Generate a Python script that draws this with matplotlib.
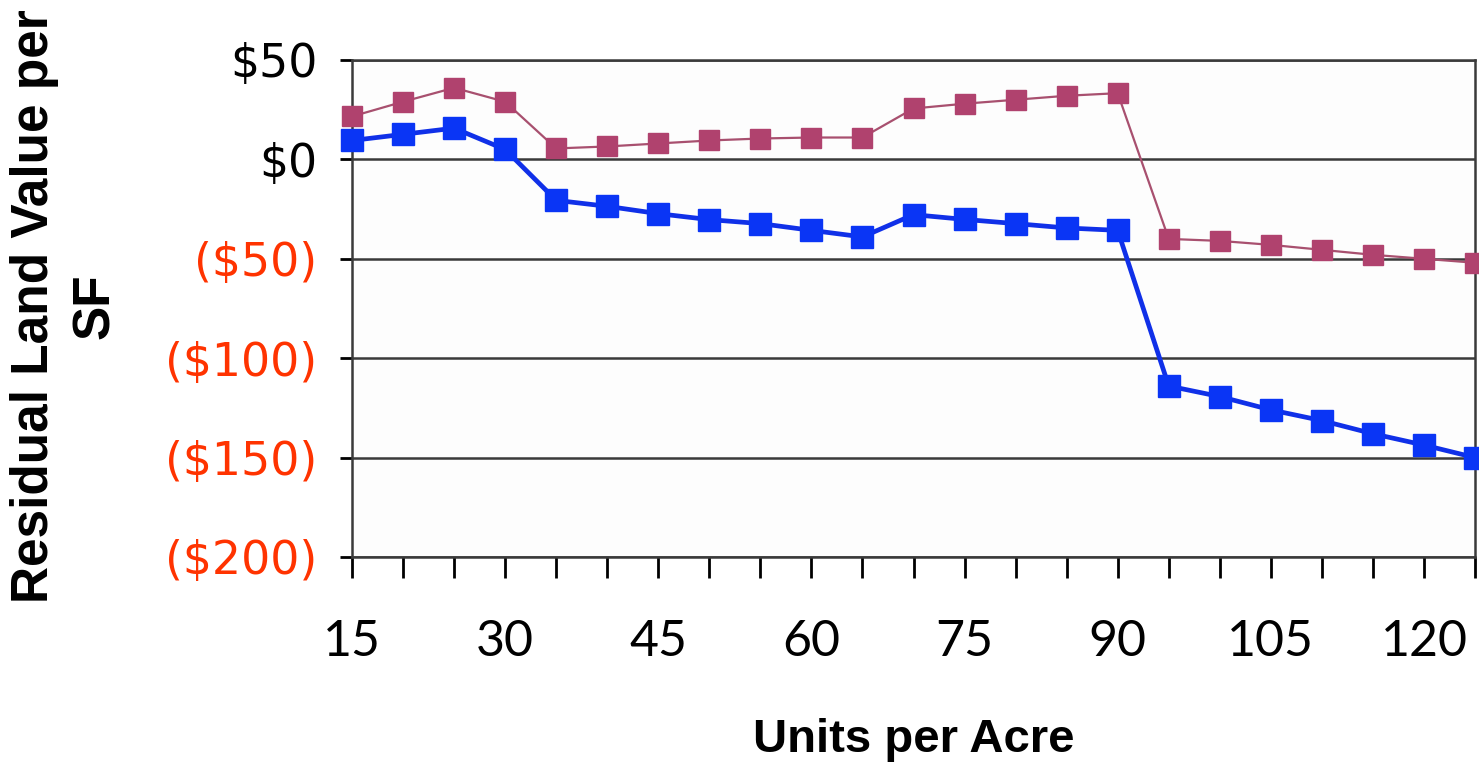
import numpy as np
import matplotlib.pyplot as plt
from matplotlib.ticker import FuncFormatter, MultipleLocator

# ------------------------------
# Data: residual land value per SF vs. density
units_per_acre = [15, 20, 25, 30, 35, 40, 45, 50, 55, 60, 65, 70,
                  75, 80, 85, 90, 95, 100, 105, 110, 115, 120, 125]
series_low = [9.5, 12.6, 15.7, 5, -20.6, -23.6, -27.3, -30.3, -32.3, -35.7, -39, -27.8,
              -30.2, -32.3, -34.5, -35.7, -114, -119.3, -126, -131.4, -138, -143.7, -150]
series_high = [21.6, 29, 36, 29, 5.5, 6.5, 8, 9.5, 10.5, 11, 11, 25.6,
               28, 30, 32, 33.3, -40, -41, -43, -45.5, -48, -50, -52]

yticks = [50, 0, -50, -100, -150, -200]
xticks = [15, 30, 45, 60, 75, 90, 105, 120]

# ------------------------------
# Plot
fig = plt.figure(figsize=(14.79, 7.69), dpi=100)
ax = fig.add_axes([0.238, 0.2757, 0.7593, 0.6463])
ax.set_facecolor('#fdfdfd')

ax.plot(units_per_acre, series_high, color='#a8506f', linewidth=1.6,
        marker='s', markersize=15, markerfacecolor='#b0426e',
        markeredgecolor='#b0426e', clip_on=False, zorder=3)
ax.plot(units_per_acre, series_low, color='#1030e8', linewidth=3.4,
        marker='s', markersize=15.5, markerfacecolor='#0a35f5',
        markeredgecolor='#0a35f5', clip_on=False, zorder=4)

ax.set_xlim(15, 125)
ax.set_ylim(-200, 50)

ax.set_yticks(yticks)
ax.yaxis.set_major_formatter(FuncFormatter(
    lambda v, p: f"${v:.0f}" if v >= 0 else f"(${-v:.0f})"))

ax.set_xticks(xticks)
ax.xaxis.set_minor_locator(MultipleLocator(5))
ax.tick_params(axis='x', which='both', length=15, width=2, direction='out',
               pad=30, color='black')
ax.tick_params(axis='y', which='major', length=9, width=2, direction='out',
               pad=16, color='black')
for lbl in ax.get_xticklabels():
    lbl.set_fontsize(36)
    lbl.set_family('Lato')
for lbl, v in zip(ax.get_yticklabels(), yticks):
    lbl.set_fontsize(33)
    lbl.set_family('DejaVu Sans')
    lbl.set_color('black' if v >= 0 else '#ff3300')

ax.grid(axis='y', color='#3a3a3a', linewidth=1.8)
ax.set_axisbelow(True)
for side in ['left', 'right', 'top', 'bottom']:
    ax.spines[side].set_color('#3a3a3a')
    ax.spines[side].set_linewidth(1.8)

ax.set_xlabel("Units per Acre", fontsize=34, fontweight='bold',
              family='Liberation Sans', labelpad=38)
ax.set_ylabel("Residual Land Value per\nSF", fontsize=37, fontweight='bold',
              family='Liberation Sans', linespacing=1.3)
ax.yaxis.set_label_coords(-0.207, 0.505)

fig.savefig("out.png", dpi=100)
